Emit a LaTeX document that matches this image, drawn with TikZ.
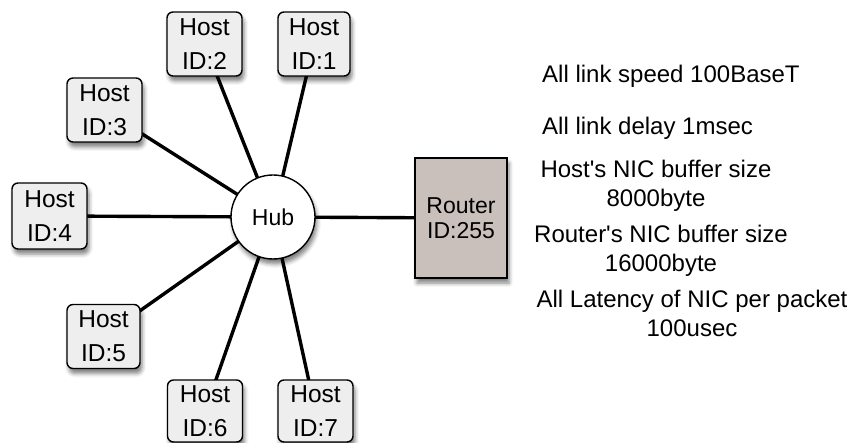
\documentclass[tikz,border=0pt]{standalone}
\usepackage{fontspec}
\setmainfont{Liberation Sans}
\usetikzlibrary{shadows.blur}
\definecolor{hostfill}{HTML}{EEEEEE}
\definecolor{routerfill}{HTML}{C9C0BC}
\begin{document}
\begin{tikzpicture}[x=1pt,y=-1pt,
  softshadow/.style={blur shadow={shadow xshift=2pt,shadow yshift=-5pt,shadow blur radius=4pt,shadow opacity=50}},
  hostbox/.style={draw=black,line width=1.4pt,fill=hostfill,rounded corners=6pt,
    minimum width=75pt,minimum height=64pt,inner sep=0pt,align=center,
    font=\fontsize{24.5}{34}\selectfont,softshadow},
  hubnode/.style={draw=black,line width=1.4pt,fill=white,circle,minimum size=84pt,
    inner sep=0pt,font=\fontsize{23}{26}\selectfont,softshadow},
  routerbox/.style={draw=black,line width=1.4pt,fill=routerfill,minimum width=92pt,
    minimum height=120pt,inner sep=0pt,align=center,font=\fontsize{23}{25}\selectfont,softshadow},
  link/.style={line width=3.4pt,black},
  info/.style={anchor=base,inner sep=0pt,font=\fontsize{24}{29}\selectfont}]
\useasboundingbox (0,0) rectangle (851,443);

% links are drawn first so the nodes sit on top of them
\coordinate (hubc) at (273,217);
\coordinate (c1) at (314,44);
\coordinate (c2) at (204.5,44);
\coordinate (c3) at (104.5,110);
\coordinate (c4) at (49.5,216);
\coordinate (c5) at (103.5,336.5);
\coordinate (c6) at (205,411);
\coordinate (c7) at (315.5,411);
\coordinate (cr) at (461,218);

\foreach \c in {c1,c2,c3,c4,c5,c6,c7}
  \draw[link] (hubc) -- (\c);
\draw[link] (hubc) -- (cr);

% hosts
\node[hostbox,minimum width=72pt] (h1) at (c1) {Host\\ID:1};
\node[hostbox] (h2) at (c2) {Host\\ID:2};
\node[hostbox] (h3) at (c3) {Host\\ID:3};
\node[hostbox,minimum height=66pt] (h4) at (c4) {Host\\ID:4};
\node[hostbox,minimum width=73pt] (h5) at (c5) {Host\\ID:5};
\node[hostbox,minimum height=62pt] (h6) at (c6) {Host\\ID:6};
\node[hostbox,minimum height=62pt] (h7) at (c7) {Host\\ID:7};

% hub and router
\node[hubnode] (hub) at (hubc) {Hub};
\node[routerbox] (router) at (cr) {Router\\ID:255};

% network parameters
\node[info,anchor=base west] (t1) at (542,83) {All link speed 100BaseT};
\node[info,anchor=base west] (t2) at (542,135) {All link delay 1msec};
\node[info] (t3a) at (656,178) {Host\textquotesingle s NIC buffer size};
\node[info] (t3b) at (656,207) {8000byte};
\node[info] (t4a) at (661,243) {Router\textquotesingle s NIC buffer size};
\node[info] (t4b) at (661,272) {16000byte};
\node[info] (t5a) at (692,308) {All Latency of NIC per packet};
\node[info] (t5b) at (692,337) {100usec};
\end{tikzpicture}
\end{document}
